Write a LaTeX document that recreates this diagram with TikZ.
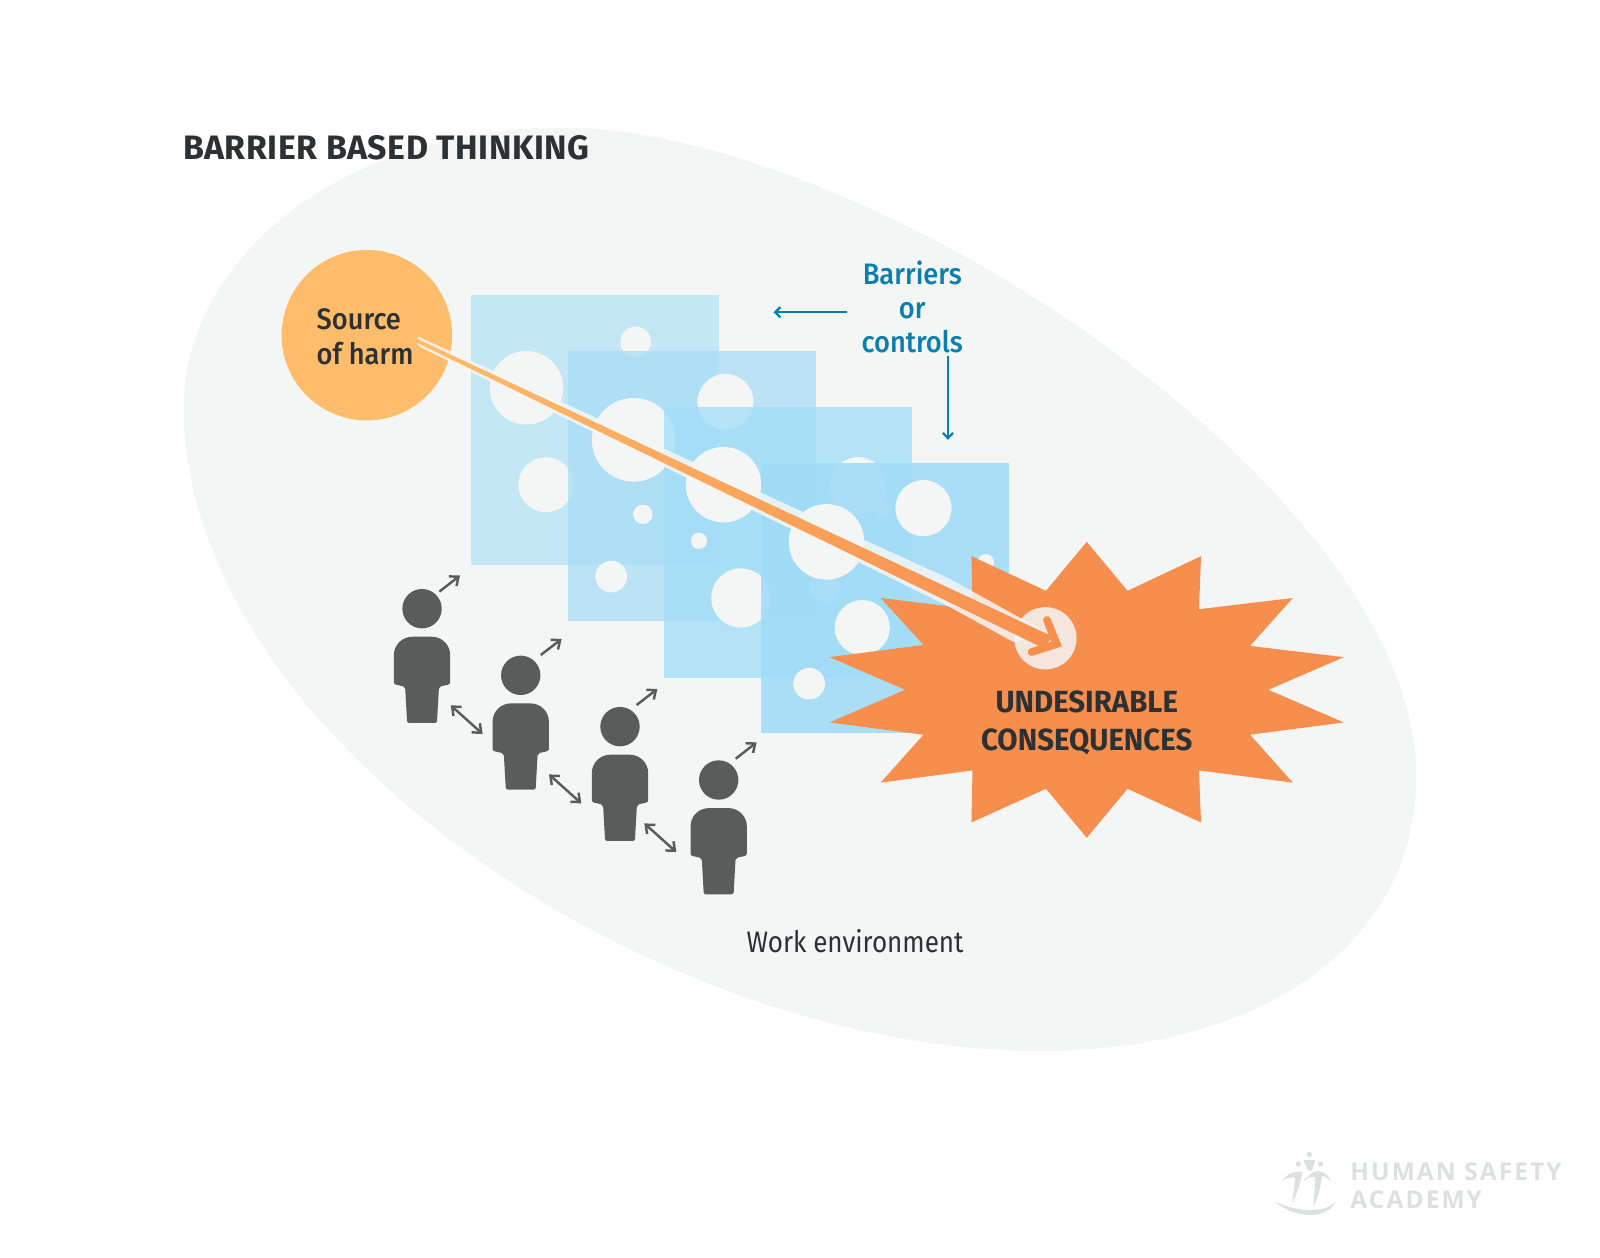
\documentclass[tikz,border=0pt]{standalone}
\usepackage{fontspec}
\setmainfont{Fira Sans}[FakeStretch=0.88]
\newfontfamily\medfont{Fira Sans Medium}[FakeStretch=0.92]
\newfontfamily\titlefont{Fira Sans}[LetterSpace=1.6]
\newfontfamily\burstfont{Fira Sans}[FakeStretch=0.96]
\newfontfamily\logofont{Open Sans}[LetterSpace=8.5]
\usetikzlibrary{arrows.meta}

\definecolor{ambiente}{HTML}{F4F6F5}
\definecolor{fuente}{HTML}{FFBC6B}
\definecolor{estallido}{HTML}{F68F4E}
\definecolor{oscuro}{HTML}{2D3133}
\definecolor{gente}{HTML}{5A5C5B}
\definecolor{azul}{HTML}{0A7FAE}
\definecolor{logogris}{HTML}{DDE0E0}
\definecolor{hojauno}{RGB}{181,226,246}
\definecolor{hojados}{RGB}{166,221,246}
\definecolor{hojatres}{RGB}{164,221,247}
\definecolor{hojacuatro}{RGB}{161,220,247}

\begin{document}
\begin{tikzpicture}[
    x=0.5pt,
    y=-0.5pt,
    hueco/.style={
        fill=ambiente
    },
    flechita/.style={
        draw=gente,
        line width=1.2pt,
        {Straight Barb[length=3.6pt,width=6pt]}-{Straight Barb[length=3.6pt,width=6pt]}
    },
    mirada/.style={
        draw=gente,
        line width=1.2pt,
        -{Straight Barb[length=3.6pt,width=6pt]}
    },
    control/.style={
        draw=azul,
        line width=1.1pt,
        -{Straight Barb[length=2.6pt,width=5pt]}
    },
    person/.pic={
        \fill[gente] (0,0) circle (19.3);
        \fill[gente, rounded corners=1pt]
            (-27.6,74) -- (-27.6,48)
            [rounded corners=9pt] -- (-27.6,27.5) -- (27.6,27.5)
            [rounded corners=1pt] -- (27.6,74) -- (16.6,76.5)
            -- (14.6,112) -- (-14.6,112) -- (-16.6,76.5) -- cycle;
    }
]
    \useasboundingbox (0,0) rectangle (1568,1232);

    % ambiente de trabajo
    \fill[ambiente] (180,400)
        .. controls (180,250) and (340,125) .. (550,125)
        .. controls (850,125) and (1388,480) .. (1388,760)
        .. controls (1388,930) and (1230,1030) .. (1020,1030)
        .. controls (640,1030) and (180,720) .. (180,400) -- cycle;

    \node[anchor=west, inner sep=0pt, text=oscuro, font=\fontsize{16.6}{18}\selectfont\titlefont\bfseries]
        (titulo) at (179,145) {BARRIER BASED THINKING};

    % barreras
    \fill[hojauno, fill opacity=0.75] (462,289) rectangle (705,554);
    \fill[hueco] (516,380) circle (36) (623,335) circle (15) (535,475) circle (27);
    \fill[hojados, fill opacity=0.72] (556.5,344) rectangle (799.5,609);
    \fill[hueco] (621,431) circle (41) (711,394) circle (27.5)
        (630,504) circle (9.5) (599,565) circle (15.5);
    \fill[hojatres, fill opacity=0.8] (651,399) rectangle (894,664);
    \fill[hueco] (709,475) circle (37) (685,530) circle (8) (726,586) circle (29)
        (841,476) circle (28) (809,575) circle (15) (866,500) circle (8);
    \fill[hojacuatro, fill opacity=0.9] (745.5,454) rectangle (988.5,718);
    \fill[hueco] (810,531) circle (37) (905,498) circle (27.5) (845,615) circle (27)
        (793,670) circle (15.5) (966,551) circle (8);

    % fuente
    \node[circle, fill=fuente, minimum size=167*0.5pt, inner sep=0pt] (fuenteDano) at (359.5,328.5) {};
    \node[anchor=west, align=left, inner sep=0pt, text=oscuro, font=\fontsize{14.5}{16.7}\selectfont\medfont]
        (fuenteTexto) at (310,330) {Source\\of harm};

    % consecuencias
    \fill[estallido] (1065,531) -- (1105,579) -- (1177,545) -- (1175,597)
        -- (1267,586) -- (1225,633) -- (1317,644) -- (1243,676)
        -- (1317,708) -- (1225,720) -- (1267,767) -- (1175,755)
        -- (1177,806) -- (1105,773) -- (1065,821) -- (1025,773)
        -- (952,806) -- (953,755) -- (863,767) -- (905,720)
        -- (813,708) -- (887,676) -- (813,644) -- (905,632)
        -- (863,586) -- (953,597) -- (952,545) -- (1025,579) -- cycle;
    \node[align=center, inner sep=0pt, text=oscuro, font=\fontsize{15}{19}\selectfont\burstfont\bfseries]
        (consecuencias) at (1065,708.5) {UNDESIRABLE\\CONSEQUENCES};

    % trayectoria
    \fill[ambiente, opacity=0.85, rounded corners=1pt]
        (409,329.5) -- (931,567.4) -- (1024,619) -- (994.7,630) -- (931,595) -- (409,338.7) -- cycle;
    \fill[ambiente, opacity=0.85] (1024.5,625.5) circle (30.5);
    \shade[left color=fuente, right color=estallido]
        (409,332.2) -- (1032,624) -- (1022,635) -- (409,336) -- cycle;
    \draw[estallido, line width=3.8pt, line cap=round, miter limit=10]
        (1026,607.6) -- (1035.5,631.1) -- (1011,639);

    % barreras: rotulo
    \node[align=center, inner sep=0pt, text=azul, font=\fontsize{14.5}{16.7}\selectfont\medfont]
        (barreras) at (894,301) {Barriers\\or\\controls};
    \coordinate (izqA) at (830,306);
    \coordinate (izqB) at (758,306);
    \coordinate (abajoA) at (929,349);
    \coordinate (abajoB) at (929,431);
    \draw[control] (izqA) -- (izqB);
    \draw[control] (abajoA) -- (abajoB);

    % personas
    \pic at (413.6,596.5) {person};
    \pic at (510.3,661.8) {person};
    \pic at (607.6,712.1) {person};
    \pic at (704.3,764.4) {person};

    \coordinate (miraA1) at (430.6,579.8);
    \coordinate (miraA2) at (450.8,564);
    \coordinate (miraB1) at (529.9,641.9);
    \coordinate (miraB2) at (550.4,626.2);
    \coordinate (miraC1) at (623.9,690.9);
    \coordinate (miraC2) at (644.2,675.2);
    \coordinate (miraD1) at (721,743.5);
    \coordinate (miraD2) at (741.5,727.5);
    \draw[mirada] (miraA1) -- (miraA2);
    \draw[mirada] (miraB1) -- (miraB2);
    \draw[mirada] (miraC1) -- (miraC2);
    \draw[mirada] (miraD1) -- (miraD2);

    \coordinate (parA1) at (441.7,691.2);
    \coordinate (parA2) at (473,719.3);
    \coordinate (parB1) at (538,758.9);
    \coordinate (parB2) at (569.7,787.3);
    \coordinate (parC1) at (631.4,806.9);
    \coordinate (parC2) at (662.8,835);
    \draw[flechita] (parA1) -- (parA2);
    \draw[flechita] (parB1) -- (parB2);
    \draw[flechita] (parC1) -- (parC2);

    \node[inner sep=0pt, text=oscuro, font=\fontsize{14.5}{17}\selectfont]
        (ambienteTexto) at (838,922) {Work environment};

    % logo
    \begin{scope}[shift={(1234.8,1117.2)}, x=0.1633pt, y=-0.1633pt]
        \fill[logogris] (45,185) .. controls (90,225) and (190,250) .. (228,185)
            .. controls (190,222) and (110,215) .. (45,185) -- cycle;
        \fill[logogris] (148,43) circle (8);
        \fill[logogris] (115,72) circle (8);
        \fill[logogris] (182,72) circle (8);
        \fill[logogris] (65,122) .. controls (85,100) and (105,92) .. (127,95)
            .. controls (122,130) and (110,165) .. (96,188)
            .. controls (100,160) and (105,135) .. (105,112)
            .. controls (90,112) and (75,115) .. (65,122) -- cycle;
        \fill[logogris] (130,125) .. controls (145,105) and (160,93) .. (175,93)
            .. controls (190,95) and (205,105) .. (212,122)
            .. controls (200,112) and (190,108) .. (186,108)
            .. controls (182,145) and (172,175) .. (160,202)
            .. controls (162,170) and (166,140) .. (165,110)
            .. controls (150,110) and (140,115) .. (130,125) -- cycle;
        \fill[logogris] (130,60) -- (166,60) -- (156,92) -- (144,92) -- cycle;
    \end{scope}
    \node[anchor=west, align=left, inner sep=0pt, text=logogris, font=\fontsize{12}{14}\selectfont\logofont\bfseries]
        (logo) at (1323,1162) {HUMAN SAFETY\\ACADEMY};
\end{tikzpicture}
\end{document}
